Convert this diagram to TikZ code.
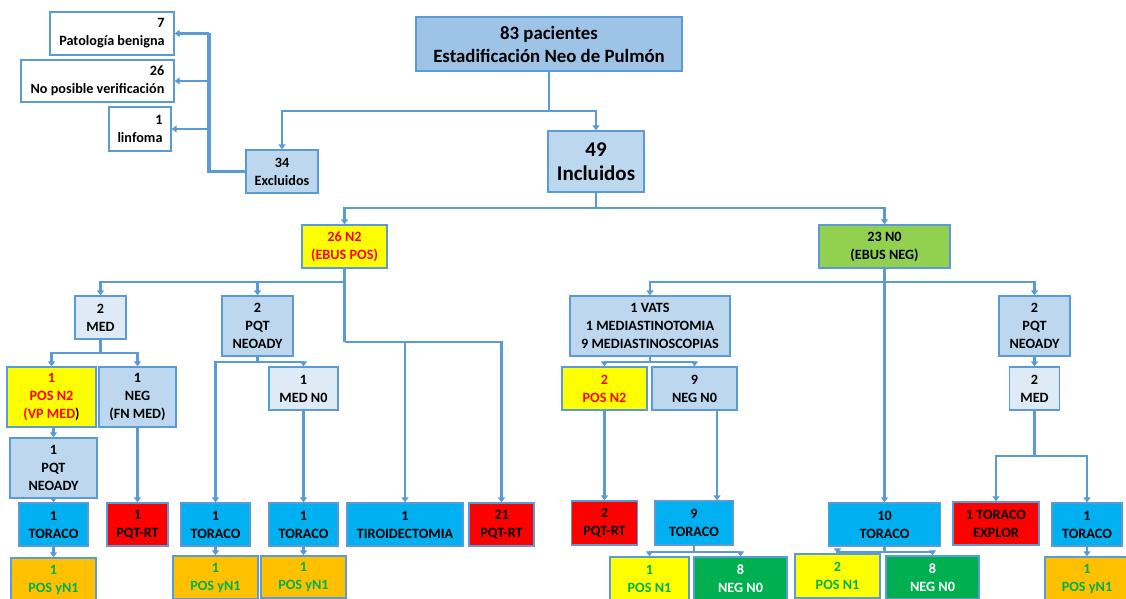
\documentclass[tikz,border=0pt]{standalone}
\usepackage{fontspec}
\setmainfont{Carlito}
\usetikzlibrary{arrows.meta,positioning}
\definecolor{edge}{RGB}{91,155,213}
\definecolor{cTop}{RGB}{157,195,230}
\definecolor{cMid}{RGB}{189,215,238}
\definecolor{cPale}{RGB}{222,235,247}
\definecolor{cYel}{RGB}{255,255,0}
\definecolor{cRed}{RGB}{255,0,0}
\definecolor{cLime}{RGB}{146,208,80}
\definecolor{cCyan}{RGB}{0,176,240}
\definecolor{cOra}{RGB}{255,192,0}
\definecolor{cGrn}{RGB}{0,176,80}
\tikzset{
  box/.style={draw=edge,line width=1.3pt,align=center,inner sep=0pt,
    font=\fontsize{14.2}{18}\selectfont\bfseries},
  sz/.style 2 args={minimum width=#1pt,minimum height=#2pt},
  ln/.style={draw=edge,line width=2.3pt},
  ar/.style={ln,-{Triangle[length=5pt,width=7pt]}},
  thk/.style={draw=edge,line width=3.2pt},
}
\newcommand{\rd}[1]{\textcolor{cRed}{#1}}
\newcommand{\gn}[1]{\textcolor{cGrn}{#1}}

\begin{document}
\begin{tikzpicture}[x=1pt,y=-1pt]
  \useasboundingbox (0,0) rectangle (1126,599);
  \clip (0,0) rectangle (1126,599);

  % top and exclusions
  \node[box,fill=cTop,sz={266}{54},font=\fontsize{18.8}{23}\selectfont\bfseries] (pac) at (549,44) {83 pacientes\\Estadificación Neo de Pulmón};
  \node[box,fill=white,sz={124}{43},align=right] (benig) at (112,33.5) {7\\Patología benigna};
  \node[box,fill=white,sz={153}{42},align=right] (nover) at (97.5,81) {26\\No posible verificación};
  \node[box,fill=white,sz={62}{44},align=right] (linf) at (140,129) {1\\linfoma};
  \node[box,fill=cMid,sz={72}{43}] (excl) at (282,171.5) {34\\Excluidos};
  \node[box,fill=cMid,sz={96}{61},font=\fontsize{21}{24}\selectfont\bfseries] (incl) at (596,161.5) {49\\Incluidos};

  % EBUS
  \node[box,fill=cYel,sz={85}{43}] (ebpos) at (344.5,246.5) {\rd{26 N2}\\\rd{(EBUS POS)}};
  \node[box,fill=cLime,sz={131}{43}] (ebneg) at (884.5,246.5) {23 N0\\(EBUS NEG)};

  % N2 branch
  \node[box,fill=cPale,sz={51}{43}] (med) at (100.5,317.5) {2\\MED};
  \node[box,fill=cMid,sz={71}{60}] (pqt) at (257.5,326) {2\\PQT\\NEOADY};
  \node[box,fill=cYel,sz={89}{60}] (posn2) at (51.5,397) {\rd{1}\\\rd{POS N2}\\\rd{(VP MED})};
  \node[box,fill=cMid,sz={77}{60}] (neg) at (137.5,397) {1\\NEG\\(FN MED)};
  \node[box,fill=cPale,sz={69}{43}] (medn0) at (303.5,388.5) {1\\MED N0};
  \node[box,fill=cMid,sz={87}{60}] (pqtl) at (53.5,468) {1\\PQT\\NEOADY};
  \node[box,fill=cCyan,sz={69}{43}] (tor1) at (53.5,524.5) {1\\TORACO};
  \node[box,fill=cRed,sz={61}{43}] (rt1) at (137.5,524.5) {1\\PQT-RT};
  \node[box,fill=cCyan,sz={69}{43}] (tor2) at (215.5,524.5) {1\\TORACO};
  \node[box,fill=cCyan,sz={69}{43}] (tor3) at (303.5,524.5) {1\\TORACO};
  \node[box,fill=cCyan,sz={116}{43}] (tiro) at (405,524.5) {1\\TIROIDECTOMIA};
  \node[box,fill=cRed,sz={65}{43}] (rt21) at (501.5,524.5) {21\\PQT-RT};
  \node[box,fill=cOra,sz={85}{43}] (yn1a) at (53.5,579.5) {\gn{1}\\\gn{POS yN1}};
  \node[box,fill=cOra,sz={85}{43}] (yn1b) at (215.5,577.5) {\gn{1}\\\gn{POS yN1}};
  \node[box,fill=cOra,sz={85}{42}] (yn1c) at (303.5,577) {\gn{1}\\\gn{POS yN1}};

  % N0 branch
  \node[box,fill=cMid,sz={160}{60}] (vats) at (650,326) {1 VATS\\1 MEDIASTINOTOMIA\\9 MEDIASTINOSCOPIAS};
  \node[box,fill=cMid,sz={71}{60}] (pqtr) at (1034.5,326) {2\\PQT\\NEOADY};
  \node[box,fill=cYel,sz={85}{43}] (posn2r) at (604.5,388.5) {\rd{2}\\\rd{POS N2}};
  \node[box,fill=cMid,sz={85}{43}] (negn0) at (694.5,388.5) {9\\NEG N0};
  \node[box,fill=cPale,sz={50}{43}] (medr) at (1034.5,388.5) {2\\MED};
  \node[box,fill=cRed,sz={66}{44}] (rt2) at (604.5,523) {2\\PQT-RT};
  \node[box,fill=cCyan,sz={78}{44}] (tor9) at (694,523) {9\\TORACO};
  \node[box,fill=cCyan,sz={112}{43}] (tor10) at (884.5,524.5) {10\\TORACO};
  \node[box,fill=cRed,sz={86}{43}] (explor) at (996,523.5) {1 TORACO\\EXPLOR};
  \node[box,fill=cCyan,sz={70}{43}] (torr) at (1087,524.5) {1\\TORACO};
  \node[box,fill=cYel,sz={79}{43}] (pn1a) at (649.5,578.5) {\gn{1}\\\gn{POS N1}};
  \node[box,fill=cGrn,sz={93}{43},text=white] (nn0a) at (740.5,578.5) {8\\NEG N0};
  \node[box,fill=cYel,sz={85}{44}] (pn1b) at (837.5,576) {\gn{2}\\\gn{POS N1}};
  \node[box,fill=cGrn,sz={93}{43},text=white] (nn0b) at (932.5,577.5) {8\\NEG N0};
  \node[box,fill=cOra,sz={84}{43}] (yn1d) at (1087,578.5) {\gn{1}\\\gn{POS yN1}};

  % split points
  \coordinate (sPac) at (549,111);
  \coordinate (sExc) at (209,171.5);
  \coordinate (sInc) at (596,208);
  \coordinate (sPos) at (344.5,282);
  \coordinate (sPos2) at (344.5,342);
  \coordinate (sMed) at (100.5,353);
  \coordinate (sPqt) at (257.5,362);
  \coordinate (sNeg) at (884.5,282);
  \coordinate (sVat) at (650,362);
  \coordinate (sT9) at (694,552);
  \coordinate (sT10) at (884.5,552);
  \coordinate (sMr) at (1034.5,456);

  % connectors
  \draw[ln] (pac) -- (sPac);
  \draw[ar] (sPac) -| (excl);
  \draw[ar] (sPac) -| (incl);
  \draw[thk] (excl) -- (sExc) -- (sExc |- benig.east);
  \foreach \n in {benig,nover,linf}
    \draw[ar] (sExc |- \n.east) -- (\n.east);

  \draw[ln] (incl) -- (sInc);
  \draw[ar] (sInc) -| (ebpos);
  \draw[ar] (sInc) -| (ebneg);

  \draw[ln] (ebpos) -- (sPos) -- (sPos2);
  \draw[ar] (sPos) -| (med);
  \draw[ar] (sPos) -| (pqt);
  \draw[ar] (sPos2) -| (tiro);
  \draw[ar] (sPos2) -| (rt21);
  \draw[ln] (med) -- (sMed);
  \draw[ar] (sMed) -| (posn2);
  \draw[ar] (sMed) -| (neg);
  \draw[ln] (pqt) -- (sPqt);
  \draw[ar] (sPqt) -| (tor2);
  \draw[ar] (sPqt) -| (medn0);
  \draw[ar] (posn2.south -| pqtl) -- (pqtl);
  \draw[ar] (pqtl) -- (tor1);
  \draw[ar] (tor1) -- (yn1a);
  \draw[ar] (neg) -- (rt1);
  \draw[ar] (tor2) -- (yn1b);
  \draw[ar] (medn0) -- (tor3);
  \draw[ar] (tor3) -- (yn1c);

  \draw[ln] (ebneg) -- (sNeg);
  \draw[ar] (sNeg) -| (vats);
  \draw[ar] (sNeg) -| (pqtr);
  \draw[ar] (sNeg) -- (tor10);
  \draw[ln] (vats) -- (sVat);
  \draw[ar] (sVat) -| (posn2r);
  \draw[ar] (sVat) -| (negn0);
  \draw[ar] (posn2r) -- (rt2);
  \draw[ar] ([xshift=22.5pt]negn0.south) -- ([xshift=22.5pt]negn0.south |- tor9.north);
  \draw[ln] (tor9) -- (sT9);
  \draw[ar] (sT9) -| (pn1a);
  \draw[ar] (sT9) -| (nn0a);
  \draw[ln] (tor10) -- (sT10);
  \draw[ar] (sT10) -| (pn1b);
  \draw[ar] (sT10) -| (nn0b);
  \draw[ar] (pqtr) -- (medr);
  \draw[ln] (medr) -- (sMr);
  \draw[ar] (sMr) -| (explor);
  \draw[ar] (sMr) -| (torr);
  \draw[ar] (torr) -- (yn1d);
\end{tikzpicture}
\end{document}
